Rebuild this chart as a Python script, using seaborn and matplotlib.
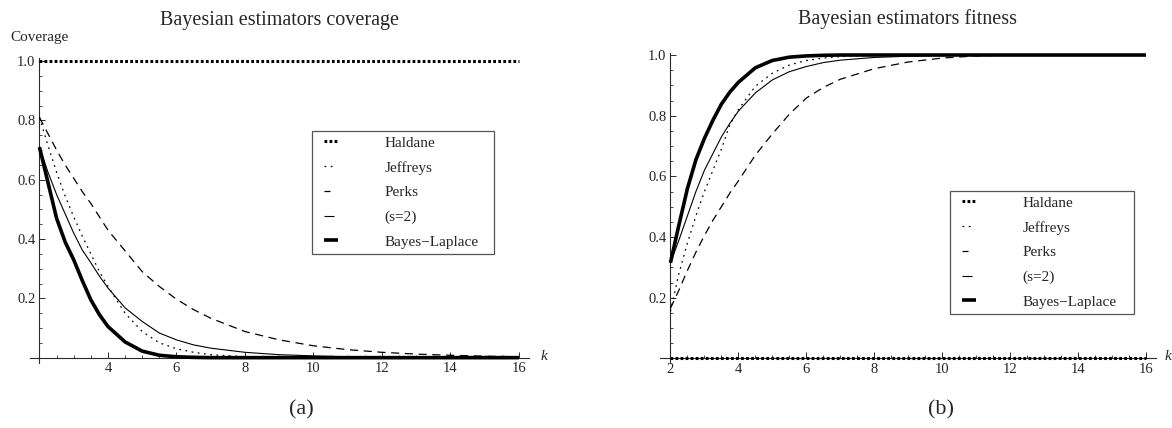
import numpy as np
import pandas as pd
import matplotlib
matplotlib.use("Agg")
import matplotlib.pyplot as plt
import seaborn as sns
from matplotlib.ticker import MultipleLocator, FixedLocator
from matplotlib.legend_handler import HandlerLine2D

# ---------------- data ----------------
k = [2, 2.25, 2.5, 2.75, 3, 3.25, 3.5, 3.75, 4, 4.5, 5, 5.5, 6, 6.5, 7,
     8, 9, 10, 11, 12, 13, 14, 15, 16]

series_names = ["Haldane", "Jeffreys", "Perks", "(s=2)", "Bayes\u2212Laplace"]

# (a) coverage
haldane_cov = [1.0, 1.0, 1.0, 1.0, 1.0, 1.0, 1.0, 1.0, 1.0, 1.0, 1.0, 1.0,
               1.0, 1.0, 1.0, 1.0, 1.0, 1.0, 1.0, 1.0, 1.0, 1.0, 1.0, 1.0]
jeffreys_cov = [0.81, 0.715, 0.625, 0.545, 0.475, 0.41, 0.35, 0.29, 0.24,
                0.15, 0.088, 0.05, 0.03, 0.018, 0.01, 0.003, 0.001, 0.0,
                0.0, 0.0, 0.0, 0.0, 0.0, 0.0]
perks_cov = [0.81, 0.755, 0.70, 0.65, 0.605, 0.56, 0.52, 0.475, 0.43, 0.36,
             0.29, 0.24, 0.197, 0.162, 0.133, 0.088, 0.06, 0.04, 0.027,
             0.018, 0.012, 0.008, 0.005, 0.003]
s2_cov = [0.71, 0.625, 0.55, 0.485, 0.42, 0.363, 0.32, 0.275, 0.235, 0.168,
          0.122, 0.083, 0.06, 0.043, 0.032, 0.018, 0.01, 0.006, 0.003,
          0.002, 0.001, 0.0, 0.0, 0.0]
bl_cov = [0.71, 0.59, 0.47, 0.39, 0.33, 0.26, 0.195, 0.145, 0.105, 0.053,
          0.022, 0.008, 0.003, 0.001, 0.0, 0.0, 0.0, 0.0, 0.0, 0.0, 0.0,
          0.0, 0.0, 0.0]

# (b) fitness
haldane_fit = [0.0, 0.0, 0.0, 0.0, 0.0, 0.0, 0.0, 0.0, 0.0, 0.0, 0.0, 0.0,
               0.0, 0.0, 0.0, 0.0, 0.0, 0.0, 0.0, 0.0, 0.0, 0.0, 0.0, 0.0]
jeffreys_fit = [0.155, 0.28, 0.38, 0.47, 0.55, 0.62, 0.69, 0.77, 0.82,
                0.897, 0.94, 0.967, 0.982, 0.99, 0.995, 0.999, 1.0, 1.0,
                1.0, 1.0, 1.0, 1.0, 1.0, 1.0]
perks_fit = [0.165, 0.225, 0.29, 0.35, 0.405, 0.455, 0.5, 0.545, 0.585,
             0.67, 0.74, 0.805, 0.858, 0.893, 0.92, 0.955, 0.977, 0.99,
             0.997, 1.0, 1.0, 1.0, 1.0, 1.0]
s2_fit = [0.315, 0.39, 0.47, 0.55, 0.62, 0.675, 0.73, 0.775, 0.815, 0.875,
          0.918, 0.945, 0.962, 0.975, 0.983, 0.992, 0.996, 0.998, 0.999,
          1.0, 1.0, 1.0, 1.0, 1.0]
bl_fit = [0.315, 0.44, 0.56, 0.655, 0.725, 0.785, 0.838, 0.878, 0.91, 0.958,
          0.982, 0.993, 0.997, 0.999, 1.0, 1.0, 1.0, 1.0, 1.0, 1.0, 1.0,
          1.0, 1.0, 1.0]

titles = ["Bayesian estimators coverage", "Bayesian estimators fitness"]
panel_labels = ["(a)", "(b)"]
y_label = "Coverage"
x_label = "k"
y_major = [0.2, 0.4, 0.6, 0.8, 1.0]
y_tick_labels = ["0.2", "0.4", "0.6", "0.8", "1.0"]
x_major_a = [4, 6, 8, 10, 12, 14, 16]
x_major_b = [2, 4, 6, 8, 10, 12, 14, 16]

# ---------------- style ----------------
sns.set_theme(style="white")
plt.rcParams["font.family"] = ["Liberation Serif", "DejaVu Serif"]
plt.rcParams["axes.unicode_minus"] = True

styles = {
    "Haldane": dict(lw=2.2, ls=(0, (0.9, 0.75)), sample=1.0, sample_ls=None),
    "Jeffreys": dict(lw=0.9, ls=(0, (1.4, 3.6)), sample=0.85, sample_ls=None),
    "Perks": dict(lw=0.9, ls=(0, (6.5, 4.5)), sample=0.45, sample_ls="-"),
    "(s=2)": dict(lw=0.8, ls="-", sample=0.7, sample_ls="-"),
    "Bayes\u2212Laplace": dict(lw=2.6, ls="-", sample=1.0, sample_ls="-"),
}

W, H = 1172, 428
fig = plt.figure(figsize=(W / 100, H / 100), dpi=100)

ax_a = fig.add_axes([0.0254, 0.1519, 0.4256, 0.7129])
ax_b = fig.add_axes([0.5631, 0.1514, 0.4229, 0.7236])

data_a = [haldane_cov, jeffreys_cov, perks_cov, s2_cov, bl_cov]
data_b = [haldane_fit, jeffreys_fit, perks_fit, s2_fit, bl_fit]

axis_col = "#2a2a2a"


def draw(ax, data, xlim, ylim, xmajor, title, title_pad):
    handles = []
    for name, vals in zip(series_names, data):
        df = pd.DataFrame({"k": k, "v": vals})
        before = len(ax.lines)
        sns.lineplot(data=df, x="k", y="v", ax=ax, color="black",
                     linewidth=styles[name]["lw"], label=name, legend=False,
                     zorder=3)
        line = ax.lines[before]
        line.set_linestyle(styles[name]["ls"])
        line.set_clip_on(False)
        line.set_solid_capstyle("butt")
        line.set_dash_capstyle("butt")
        handles.append(line)
    ax.set_xlim(*xlim)
    ax.set_ylim(*ylim)
    ax.set_xlabel("")
    ax.set_ylabel("")
    for s in ["top", "right"]:
        ax.spines[s].set_visible(False)
    ax.spines["left"].set_position(("data", 2))
    ax.spines["bottom"].set_position(("data", 0))
    for s in ["left", "bottom"]:
        ax.spines[s].set_color(axis_col)
        ax.spines[s].set_linewidth(0.8)
        ax.spines[s].set_zorder(2)
    ax.xaxis.set_major_locator(FixedLocator(xmajor))
    ax.set_xticklabels([str(v) for v in xmajor])
    ax.xaxis.set_minor_locator(MultipleLocator(0.5))
    ax.yaxis.set_major_locator(FixedLocator(y_major))
    ax.set_yticklabels(y_tick_labels)
    ax.yaxis.set_minor_locator(MultipleLocator(0.05))
    ax.tick_params(axis="both", which="major", direction="in", length=4,
                   width=0.7, color=axis_col, labelsize=10.5, pad=3,
                   bottom=True, left=True)
    ax.tick_params(axis="both", which="minor", direction="in", length=2.2,
                   width=0.6, color=axis_col, bottom=True, left=True)
    ax.set_facecolor("white")
    ax.set_title(title, fontsize=14.5, pad=title_pad)
    return handles


h_a = draw(ax_a, data_a, (1.717, 16.28), (-0.018, 1.011), x_major_a,
           titles[0], 24)
h_b = draw(ax_b, data_b, (1.691, 16.283), (-0.016, 1.005), x_major_b,
           titles[1], 21)


def make_handler(name):
    frac = styles[name]["sample"]
    sls = styles[name]["sample_ls"]

    def upd(leg_line, orig):
        leg_line.update_from(orig)
        xd = np.asarray(leg_line.get_xdata(), dtype=float)
        if len(xd) >= 2:
            x0, x1 = xd[0], xd[-1]
            leg_line.set_xdata([x0, x0 + frac * (x1 - x0)])
            yd = np.asarray(leg_line.get_ydata(), dtype=float)
            leg_line.set_ydata([yd[0], yd[0]])
        if sls is not None:
            leg_line.set_linestyle(sls)
        leg_line.set_solid_capstyle("butt")
        leg_line.set_dash_capstyle("butt")

    return HandlerLine2D(numpoints=2, marker_pad=0.45, update_func=upd)


hmap = {}
for hs in (h_a, h_b):
    for name, h in zip(series_names, hs):
        hmap[h] = make_handler(name)

leg_kw = dict(fontsize=11, frameon=True, fancybox=False, borderaxespad=0,
              borderpad=0.33, labelspacing=0.72, handlelength=1.8,
              handletextpad=2.6, loc="upper left", mode="expand",
              handler_map=hmap)
la = ax_a.legend(h_a, series_names,
                 bbox_to_anchor=(312 / W, 1 - 131 / H, 182 / W, 0),
                 bbox_transform=fig.transFigure, **leg_kw)
lb = ax_b.legend(h_b, series_names,
                 bbox_to_anchor=(950 / W, 1 - 191 / H, 184 / W, 0),
                 bbox_transform=fig.transFigure, **leg_kw)
for lg in (la, lb):
    fr = lg.get_frame()
    fr.set_edgecolor("#555555")
    fr.set_linewidth(0.9)
    fr.set_facecolor("white")
    fr.set_alpha(1)

fig.text(39.7 / W, 1 - 37 / H, y_label, ha="center", va="center",
         fontsize=11)
fig.text(544 / W, 1 - 356 / H, x_label, ha="center", va="center",
         fontsize=11, style="italic")
fig.text(1168 / W, 1 - 356 / H, x_label, ha="center", va="center",
         fontsize=11, style="italic")
fig.text(301 / W, 1 - 410 / H, panel_labels[0], ha="center", va="center",
         fontsize=16)
fig.text(941 / W, 1 - 410 / H, panel_labels[1], ha="center", va="center",
         fontsize=16)

fig.savefig("out.png", dpi=100, facecolor="white")
